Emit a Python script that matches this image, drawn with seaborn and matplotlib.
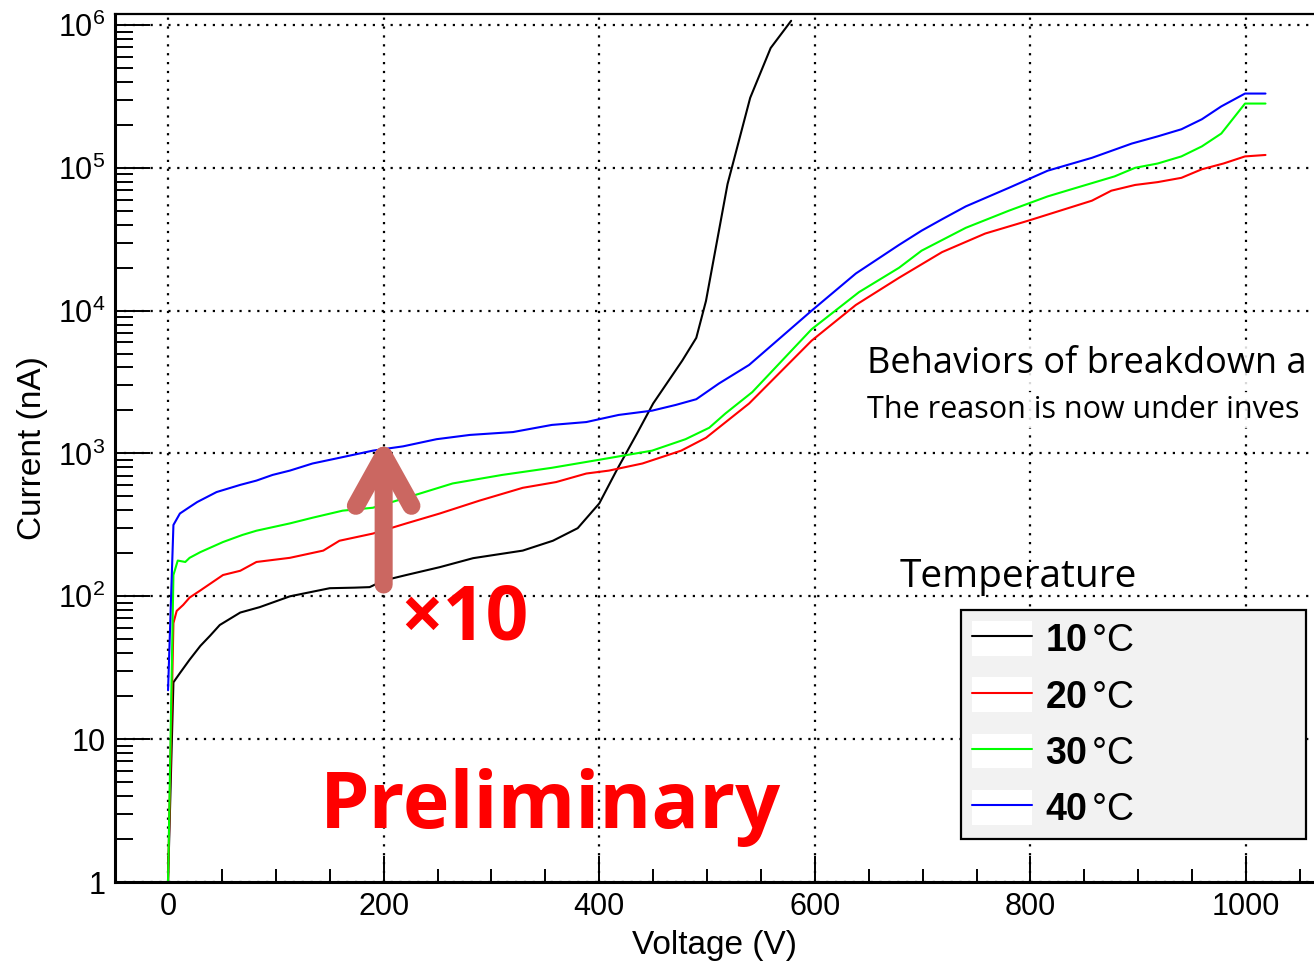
import numpy as np
import pandas as pd
import matplotlib
matplotlib.use("Agg")
import matplotlib.pyplot as plt
import seaborn as sns
from matplotlib.lines import Line2D
from matplotlib.patches import Patch
from matplotlib.legend_handler import HandlerTuple
from matplotlib.ticker import MultipleLocator, LogLocator, NullFormatter

# ---------------- data ----------------
temps = ["10", "20", "30", "40"]
colors = ["#000000", "#ff0000", "#00ff00", "#0000ff"]

v_10 = [0, 5, 11, 20, 30, 39, 48, 67, 85, 113, 150, 173, 187, 200, 221, 252, 283,
        329, 357, 380, 400, 416, 435, 450, 477, 490, 499, 519, 540, 559, 578]
i_10 = [1, 25, 29, 36, 45, 53, 63, 77, 84, 100, 114, 115, 116, 129, 141, 160, 185,
        209, 245, 300, 447, 760, 1380, 2240, 4470, 6450, 11700, 77000, 309000, 690000, 1070000]

v_20 = [0, 5, 8, 14, 20, 30, 51, 67, 82, 113, 144, 159, 190, 221, 252, 289, 329, 360,
        388, 409, 440, 456, 476, 499, 539, 597, 638, 678, 718, 758, 798, 857, 875, 897,
        918, 940, 959, 979, 999, 1018]
i_20 = [1, 65, 79, 87, 98, 110, 141, 151, 174, 186, 209, 245, 275, 324, 380, 468, 575, 631,
        724, 759, 851, 933, 1047, 1288, 2239, 6166, 10960, 16980, 25700, 34670, 42660, 58880,
        69180, 75860, 79430, 85110, 97720, 107200, 120200, 123000]

v_30 = [0, 5, 9, 16, 20, 30, 51, 69, 82, 113, 134, 162, 190, 221, 264, 310, 356, 403, 449,
        480, 502, 517, 542, 597, 641, 678, 699, 740, 780, 816, 838, 878, 897, 918, 940, 959,
        977, 999, 1018]
i_30 = [1, 141, 178, 174, 186, 204, 240, 269, 288, 324, 355, 398, 417, 490, 617, 708, 794, 912,
        1047, 1259, 1514, 1905, 2692, 7413, 13490, 19950, 26300, 38020, 50120, 63100, 70790,
        87100, 100000, 107200, 120200, 141300, 173800, 281800, 281800]

v_40 = [0, 5, 11, 19, 27, 45, 67, 82, 97, 113, 134, 159, 190, 218, 249, 280, 320, 356, 388,
        418, 449, 471, 490, 511, 539, 597, 638, 678, 699, 718, 740, 780, 816, 857, 894, 918,
        940, 959, 977, 999, 1018]
i_40 = [22, 316, 380, 417, 457, 537, 603, 646, 708, 759, 851, 933, 1047, 1122, 1259, 1349, 1413,
        1585, 1660, 1862, 1995, 2188, 2399, 3090, 4169, 10000, 18200, 28840, 36310, 43650, 53700,
        72440, 95500, 117500, 147900, 166000, 186200, 218800, 269200, 331100, 331100]

x_ticks = [0, 200, 400, 600, 800, 1000]
x_ticklabels = ["0", "200", "400", "600", "800", "1000"]
y_ticks = [1, 10, 100, 1000, 1e4, 1e5, 1e6]
y_ticklabels = ["1", "10", "$10^{2}$", "$10^{3}$", "$10^{4}$", "$10^{5}$", "$10^{6}$"]

# ---------------- build long-form table ----------------
frames = []
for t, v, i in zip(temps, [v_10, v_20, v_30, v_40], [i_10, i_20, i_30, i_40]):
    frames.append(pd.DataFrame({"Voltage": v, "Current": i, "T": t}))
df = pd.concat(frames, ignore_index=True)

# ---------------- style ----------------
sns.set_style("white")
plt.rcParams["font.family"] = ["Liberation Sans", "DejaVu Sans"]
plt.rcParams["mathtext.fontset"] = "custom"
plt.rcParams["mathtext.rm"] = "Liberation Sans"
plt.rcParams["mathtext.bf"] = "Liberation Sans:bold"
plt.rcParams["mathtext.it"] = "Liberation Sans:italic"
for k in ["text.color", "axes.labelcolor", "xtick.color", "ytick.color", "axes.edgecolor"]:
    plt.rcParams[k] = "black"

W, H = 1314, 961
fig = plt.figure(figsize=(W / 100, H / 100), dpi=100)
ax = fig.add_axes([115 / W, 1 - 882 / H, 1 - 115 / W, (882 - 14) / H])

sns.lineplot(data=df, x="Voltage", y="Current", hue="T", palette=colors,
             estimator=None, sort=False, legend=False, linewidth=1.5, ax=ax)

ax.set_yscale("log")
ax.set_xlim(-49.2, 1063)
ax.set_ylim(1, 10 ** (6 + 11 / 143))

ax.set_xticks(x_ticks)
ax.set_xticklabels(x_ticklabels)
ax.xaxis.set_minor_locator(MultipleLocator(50))
ax.set_yticks(y_ticks)
ax.set_yticklabels(y_ticklabels)
ax.yaxis.set_minor_locator(LogLocator(base=10, subs=np.arange(2, 10)))
ax.yaxis.set_minor_formatter(NullFormatter())

ax.tick_params(axis="x", which="major", direction="in", length=19, width=1.4,
               labelsize=22, pad=7, color="black", labelcolor="black")
ax.tick_params(axis="x", which="minor", direction="in", length=9.5, width=1.4, color="black")
ax.tick_params(axis="y", which="major", direction="in", length=25, width=1.4,
               labelsize=22, pad=7, color="black", labelcolor="black")
ax.tick_params(axis="y", which="minor", direction="in", length=13, width=1.4, color="black")
ax.tick_params(bottom=True, left=True, which="both")

ax.grid(True, which="major", color="black", linestyle=(0, (1, 3)), linewidth=1.6)
ax.grid(False, which="minor")
ax.set_axisbelow(True)

for s in ["left", "bottom"]:
    ax.spines[s].set_linewidth(2.2)
    ax.spines[s].set_color("black")
ax.spines["top"].set_linewidth(1.6)
ax.spines["top"].set_color("black")
ax.spines["right"].set_visible(False)

ax.set_xlabel("Voltage (V)", fontsize=24, labelpad=6)
ax.set_ylabel("Current (nA)", fontsize=24, labelpad=7)

# ---------------- annotations ----------------
def fx(px):
    return px / W

def fy(py):
    return 1 - py / H

txt_kw = dict(family=["Open Sans", "DejaVu Sans"], va="baseline", ha="left", color="black")
note1 = fig.text(fx(867), fy(373), "Behaviors of breakdown a", fontsize=25,
                 bbox=dict(facecolor="white", alpha=0.85, edgecolor="none", pad=2), **txt_kw)
note2 = fig.text(fx(867), fy(418), "The reason is now under inves", fontsize=20,
                 bbox=dict(facecolor="white", alpha=0.85, edgecolor="none", pad=2), **txt_kw)
fig.text(fx(900), fy(587), "Temperature", fontsize=28, **txt_kw)

# fit the two notes to the span they take in the reference (they run to the edge)
renderer = fig.canvas.get_renderer()
for t, target in [(note1, 440), (note2, 432)]:
    w = t.get_window_extent(renderer).width
    t.set_fontsize(t.get_fontsize() * target / w)

ax.annotate("", xy=(200, 1300), xytext=(200, 121),
            arrowprops=dict(arrowstyle="->,head_length=3.6,head_width=2.0",
                            lw=13, color="#CB6761", shrinkA=0, shrinkB=0,
                            capstyle="round", joinstyle="round"))

red_kw = dict(family=["Open Sans", "DejaVu Sans"], va="baseline", ha="left",
              color="#ff0000", weight="bold")
fig.text(fx(400), fy(640), "×10", fontsize=54, **red_kw)
fig.text(fx(320), fy(828), "Preliminary", fontsize=57, **red_kw)

# ---------------- legend ----------------
handles = [(Patch(facecolor="white", edgecolor="none"), Line2D([], [], color=c, lw=1.5))
           for c in colors]
labels = [r"$\mathbf{%s}\,$°C" % t for t in temps]
leg = fig.legend(handles, labels, handler_map={tuple: HandlerTuple(ndivide=1, pad=0)},
                 loc="upper left", mode="expand",
                 bbox_to_anchor=(fx(961), fy(838), fx(1306) - fx(961), fy(610) - fy(838)),
                 borderaxespad=0, fontsize=27, handlelength=1.6, handleheight=1.05,
                 handletextpad=0.35, labelspacing=0.48, borderpad=0.3,
                 frameon=True, fancybox=False, framealpha=1)
leg.get_frame().set_facecolor("#f2f2f2")
leg.get_frame().set_edgecolor("black")
leg.get_frame().set_linewidth(1.6)
for txt in leg.get_texts():
    txt.set_color("black")

fig.savefig("out.png", dpi=100)
